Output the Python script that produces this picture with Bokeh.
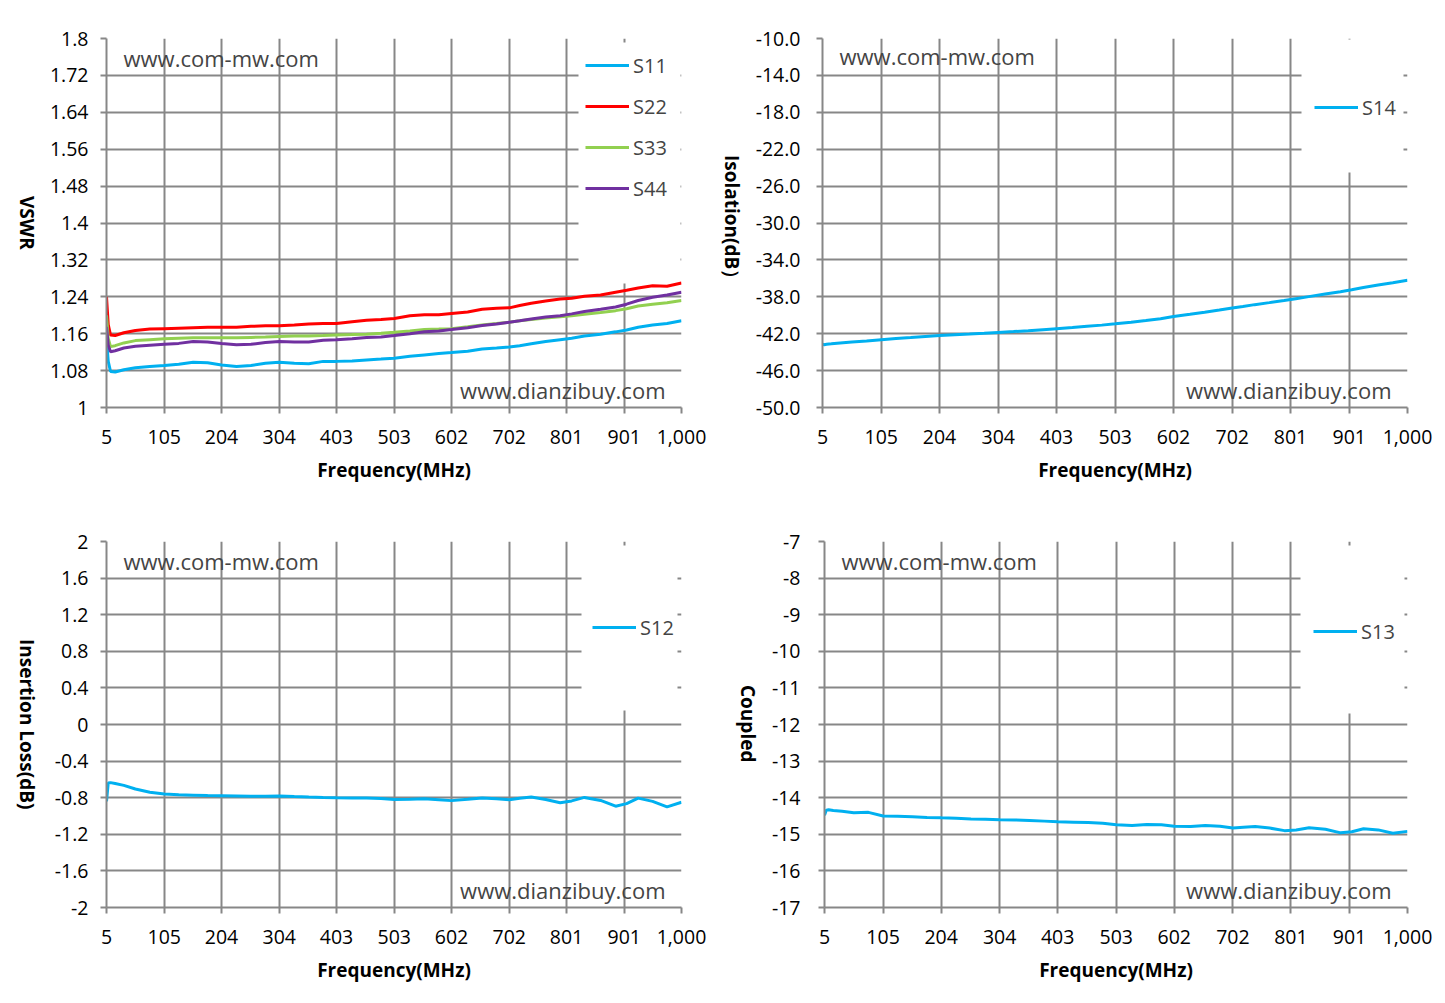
from bokeh.plotting import figure
from bokeh.layouts import column, row
from bokeh.models import Range1d, FixedTicker, Legend, LegendItem, Label, BoxAnnotation, Div
from bokeh.embed import file_html
from bokeh.resources import INLINE

# frequency points (MHz)
freq = [5, 8, 12, 20, 35, 55, 80, 105, 130, 155, 180, 204, 230, 255, 280, 304, 330, 355, 380, 403,
        430, 455, 480, 503, 530, 555, 580, 602, 630, 655, 680, 702, 720, 740, 765, 790, 810, 832,
        860, 886, 905, 925, 950, 975, 1000]

s11 = [1.150, 1.100, 1.078, 1.077, 1.082, 1.086, 1.089, 1.091, 1.094, 1.098, 1.097, 1.092, 1.089,
       1.091, 1.096, 1.098, 1.096, 1.095, 1.100, 1.100, 1.101, 1.103, 1.105, 1.107, 1.111, 1.114,
       1.117, 1.119, 1.122, 1.127, 1.129, 1.131, 1.134, 1.138, 1.143, 1.147, 1.150, 1.155, 1.159,
       1.164, 1.168, 1.174, 1.179, 1.182, 1.188]
s22 = [1.240, 1.180, 1.157, 1.156, 1.162, 1.167, 1.170, 1.171, 1.172, 1.173, 1.174, 1.174, 1.174,
       1.176, 1.177, 1.177, 1.179, 1.181, 1.182, 1.182, 1.186, 1.189, 1.191, 1.193, 1.199, 1.201,
       1.201, 1.204, 1.207, 1.213, 1.215, 1.216, 1.221, 1.226, 1.231, 1.235, 1.237, 1.241, 1.244,
       1.250, 1.254, 1.259, 1.264, 1.263, 1.270]
s33 = [1.200, 1.150, 1.132, 1.134, 1.140, 1.145, 1.147, 1.149, 1.150, 1.151, 1.151, 1.151, 1.151,
       1.152, 1.153, 1.154, 1.155, 1.155, 1.156, 1.157, 1.158, 1.159, 1.161, 1.163, 1.166, 1.169,
       1.170, 1.171, 1.175, 1.179, 1.182, 1.185, 1.188, 1.191, 1.194, 1.197, 1.199, 1.202, 1.206,
       1.210, 1.214, 1.220, 1.224, 1.227, 1.232]
s44 = [1.175, 1.135, 1.121, 1.123, 1.129, 1.133, 1.135, 1.137, 1.139, 1.143, 1.142, 1.139, 1.136,
       1.137, 1.141, 1.143, 1.142, 1.142, 1.146, 1.147, 1.149, 1.152, 1.153, 1.156, 1.160, 1.164,
       1.166, 1.169, 1.173, 1.178, 1.181, 1.185, 1.188, 1.192, 1.196, 1.199, 1.203, 1.208, 1.213,
       1.218, 1.224, 1.232, 1.239, 1.244, 1.250]
s14 = [-43.15, -43.2, -43.15, -43.1, -43.0, -42.9, -42.78, -42.65, -42.53, -42.42, -42.3, -42.2,
       -42.12, -42.04, -41.95, -41.86, -41.77, -41.67, -41.56, -41.46, -41.34, -41.2, -41.07, -40.93,
       -40.75, -40.57, -40.37, -40.14, -39.9, -39.67, -39.43, -39.21, -39.04, -38.85, -38.63, -38.4,
       -38.2, -37.98, -37.7, -37.45, -37.24, -36.99, -36.72, -36.47, -36.21]
s12 = [-0.84, -0.64, -0.635, -0.645, -0.665, -0.705, -0.74, -0.76, -0.768, -0.772, -0.777, -0.778,
       -0.781, -0.785, -0.783, -0.782, -0.788, -0.793, -0.797, -0.800, -0.802, -0.803, -0.808, -0.820,
       -0.818, -0.812, -0.822, -0.832, -0.818, -0.802, -0.812, -0.822, -0.805, -0.792, -0.82, -0.856,
       -0.835, -0.797, -0.83, -0.893, -0.865, -0.805, -0.84, -0.90, -0.85]
s13 = [-14.48, -14.34, -14.33, -14.35, -14.37, -14.41, -14.4, -14.5, -14.51, -14.52, -14.54, -14.55,
       -14.56, -14.58, -14.59, -14.6, -14.61, -14.62, -14.64, -14.66, -14.67, -14.68, -14.7, -14.74,
       -14.76, -14.73, -14.74, -14.78, -14.79, -14.76, -14.78, -14.83, -14.81, -14.79, -14.83, -14.9,
       -14.88, -14.82, -14.86, -14.96, -14.93, -14.85, -14.88, -14.97, -14.92]

x_ticks = [5, 105, 204, 304, 403, 503, 602, 702, 801, 901, 1000]
x_tick_labels = ["5", "105", "204", "304", "403", "503", "602", "702", "801", "901", "1,000"]

vswr_ticks = [1.0, 1.08, 1.16, 1.24, 1.32, 1.4, 1.48, 1.56, 1.64, 1.72, 1.8]
vswr_tick_labels = ["1", "1.08", "1.16", "1.24", "1.32", "1.4", "1.48", "1.56", "1.64", "1.72", "1.8"]
iso_ticks = [-50.0, -46.0, -42.0, -38.0, -34.0, -30.0, -26.0, -22.0, -18.0, -14.0, -10.0]
iso_tick_labels = ["-50.0", "-46.0", "-42.0", "-38.0", "-34.0", "-30.0", "-26.0", "-22.0", "-18.0",
                   "-14.0", "-10.0"]
il_ticks = [-2.0, -1.6, -1.2, -0.8, -0.4, 0.0, 0.4, 0.8, 1.2, 1.6, 2.0]
il_tick_labels = ["-2", "-1.6", "-1.2", "-0.8", "-0.4", "0", "0.4", "0.8", "1.2", "1.6", "2"]
cpl_ticks = [-17, -16, -15, -14, -13, -12, -11, -10, -9, -8, -7]
cpl_tick_labels = ["-17", "-16", "-15", "-14", "-13", "-12", "-11", "-10", "-9", "-8", "-7"]

FONT = 'Open Sans'
GRID = '#878787'
BLUE = '#00B0F0'


def y_title(text, width, height, frame_top, frame_h, center_x):
    # vertical-rl turns the text clockwise, so it reads top to bottom like the Excel title
    html = (f'<div style="margin-top:{frame_top}px;height:{frame_h}px;width:{width}px;'
            f'display:flex;align-items:center;padding-left:{center_x - 13}px;box-sizing:border-box;">'
            f'<span style="writing-mode:vertical-rl;text-orientation:sideways;font-family:\'{FONT}\';'
            f'font-size:19px;font-weight:bold;color:black;white-space:nowrap;">{text}</span></div>')
    return Div(text=html, width=width, height=height, margin=0)


def make_chart(y_ticks, y_tick_labels, y_standoff, series, width, height, borders,
               frame_w, frame_h, legend_xy, box):
    left, right, top, bottom = borders
    p = figure(width=width, height=height, title=None, output_backend="svg", toolbar_location=None,
               x_range=Range1d(x_ticks[0], x_ticks[-1]), y_range=Range1d(y_ticks[0], y_ticks[-1]),
               min_border_left=left, min_border_right=right, min_border_top=top,
               min_border_bottom=bottom, margin=0)
    p.outline_line_color = None
    p.grid.grid_line_color = GRID
    p.grid.grid_line_width = 2
    for ax, ticks, labels in ((p.xaxis[0], x_ticks, x_tick_labels), (p.yaxis[0], y_ticks, y_tick_labels)):
        ax.ticker = FixedTicker(ticks=ticks)
        ax.major_label_overrides = dict(zip(ticks, labels))
        ax.axis_line_color = GRID
        ax.axis_line_width = 2
        ax.major_tick_line_color = GRID
        ax.major_tick_line_width = 2
        ax.major_tick_out = 6
        ax.major_tick_in = 0
        ax.minor_tick_line_color = None
        ax.major_label_text_font = FONT
        ax.major_label_text_font_size = '19.5px'
        ax.major_label_text_color = 'black'
    p.xaxis.major_label_standoff = 16
    p.yaxis.major_label_standoff = y_standoff
    p.xaxis.axis_label = 'Frequency(MHz)'
    p.xaxis.axis_label_text_font = FONT
    p.xaxis.axis_label_text_font_size = '19px'
    p.xaxis.axis_label_text_font_style = 'bold'
    p.xaxis.axis_label_text_color = 'black'
    p.xaxis.axis_label_standoff = 10

    # white legend area like the Excel chart
    bx0, bx1, by0, by1 = box
    p.add_layout(BoxAnnotation(left=bx0, right=bx1, top=frame_h - by0, bottom=frame_h - by1,
                               left_units='screen', right_units='screen', top_units='screen',
                               bottom_units='screen', fill_color='white', fill_alpha=1,
                               line_color=None, level='underlay'))

    items = []
    for name, values, color in series:
        r = p.line(freq, values, line_color=color, line_width=3)
        items.append(LegendItem(label=name, renderers=[r]))
    legend = Legend(items=items, location=legend_xy, background_fill_alpha=0, border_line_color=None,
                    padding=0, margin=0, spacing=13, glyph_width=44, glyph_height=28, label_height=28,
                    label_standoff=4, label_text_font=FONT, label_text_font_size='20px')
    p.add_layout(legend)

    p.add_layout(Label(x=17, y=frame_h - 19, x_units='screen', y_units='screen', text='www.com-mw.com',
                       text_baseline='middle', text_font=FONT, text_font_size='22px'))
    p.add_layout(Label(x=frame_w - 16, y=18, x_units='screen', y_units='screen', text='www.dianzibuy.com',
                       text_baseline='middle', text_align='right', text_font=FONT, text_font_size='22px'))
    return p


p1 = make_chart(vswr_ticks, vswr_tick_labels, 12,
                [('S11', s11, BLUE), ('S22', s22, '#FF0000'), ('S33', s33, '#92D050'), ('S44', s44, '#7030A0')],
                666, 504, (60, 31, 38, 97), 575, 369, (479, 205), (472, 574, 4, 245))
p2 = make_chart(iso_ticks, iso_tick_labels, 16, [('S14', s14, BLUE)],
                685, 504, (70, 30, 36, 97), 585, 371, (492, 286), (479, 581, 3, 136))
p3 = make_chart(il_ticks, il_tick_labels, 12, [('S12', s12, BLUE)],
                666, 483, (60, 31, 37, 80), 575, 366, (486, 266), (475, 571, 4, 169))
p4 = make_chart(cpl_ticks, cpl_tick_labels, 18, [('S13', s13, BLUE)],
                675, 483, (62, 30, 37, 80), 583, 366, (489, 262), (476, 580, 4, 172))

t1 = y_title('VSWR', 46, 504, 38, 369, 26)
t2 = y_title('Isolation(dB）', 40, 504, 36, 371, 19)
t3 = y_title('Insertion Loss(dB)', 46, 483, 37, 366, 26)
t4 = y_title('Coupled', 50, 483, 37, 366, 35)

layout = column(row(t1, p1, t2, p2, spacing=0), row(t3, p3, t4, p4, spacing=0), spacing=0)
open("out.html", "w").write(file_html(layout, INLINE))
